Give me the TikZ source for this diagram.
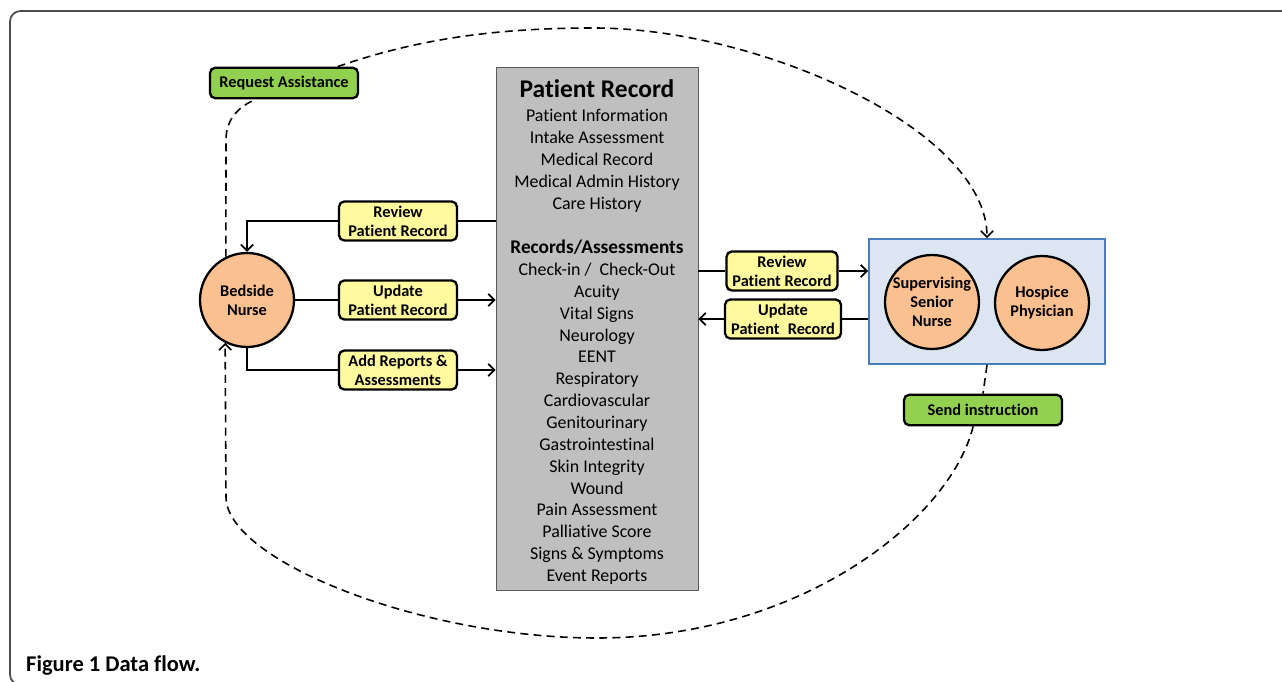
\documentclass[tikz,border=0pt]{standalone}
\usepackage{fontspec}
\setmainfont{Carlito}[Ligatures={NoCommon}]
\usepackage{xcolor}
\usetikzlibrary{arrows.meta,positioning}

\definecolor{recgray}{HTML}{BFBFBF}
\definecolor{actyellow}{HTML}{FFFA9E}
\definecolor{msggreen}{HTML}{92D050}
\definecolor{nurseorange}{HTML}{FAC090}
\definecolor{teamblue}{HTML}{DCE6F2}
\definecolor{teamedge}{HTML}{4A7EBB}

\newcommand{\bfsize}{\bfseries\fontsize{9.3}{10.8}\selectfont}

\begin{document}
\begin{tikzpicture}[x=0.02cm, y=-0.02cm, >={Straight Barb[length=3.5pt,width=7pt]},
    actor/.style={circle, draw, line width=1.3pt, fill=nurseorange, minimum size=1.88cm,
        inner sep=0pt, align=center, font=\bfsize},
    action/.style={rectangle, rounded corners=3pt, draw, line width=1.3pt, fill=actyellow,
        minimum width=2.36cm, minimum height=0.78cm, inner sep=1pt, align=center, font=\bfsize},
    msg/.style={rectangle, rounded corners=3pt, draw, line width=1.3pt, fill=msggreen,
        minimum height=0.61cm, inner sep=1pt, font=\bfsize},
    item/.style={font=\fontsize{10.2}{12.4}\selectfont, text height=7.2pt, text depth=2pt,
        inner sep=0pt},
    flow/.style={line width=1pt},
    ctrl/.style={line width=0.9pt, dash pattern=on 4.5pt off 3pt}]

    \useasboundingbox (0,0) rectangle (1282,682);
    \draw[gray!60!black, line width=1pt, rounded corners=6pt]
        (1300,11) -- (10,11) -- (10,685) -- (1300,685);

    % Patient record (middle)
    \node[rectangle, draw=gray!70!black, fill=recgray, minimum width=4.04cm,
        minimum height=10.46cm, inner sep=0pt] (rec) at (597,328.5) {};
    \node[font=\bfseries\fontsize{14.5}{17}\selectfont] (rectitle) at (597,89) {Patient Record};
    \foreach \txt [count=\i from 0] in {Patient Information, Intake Assessment,
        Medical Record, Medical Admin History, Care History}
        \node[item] (info\i) at (597,{117+21.9*\i}) {\txt};
    \node[font=\bfseries\fontsize{11}{13}\selectfont] (recsub) at (597,247) {Records/Assessments};
    \foreach \txt [count=\i from 0] in {Check-in /\ \ Check-Out, Acuity, Vital Signs,
        Neurology, EENT, Respiratory, Cardiovascular, Genitourinary, Gastrointestinal,
        Skin Integrity, Wound, Pain Assessment, Palliative Score, Signs \& Symptoms,
        Event Reports}
        \node[item] (rep\i) at (597,{271+21.85*\i}) {\txt};

    % Bedside nurse (left)
    \node[actor] (bn) at (247,300) {Bedside\\Nurse};
    \node[action] (rv1) at (398,221) {Review\\Patient Record};
    \node[action] (up1) at (398,300) {Update\\Patient Record};
    \node[action] (add) at (398,370) {Add Reports \&\\Assessments};
    \node[msg, minimum width=2.96cm] (req) at (284,83) {Request Assistance};

    \draw[flow] (rec.west |- rv1) -- (rv1.east);
    \draw[flow,->] (rv1.west) -| (bn.north);
    \draw[flow] (bn) -- (up1);
    \draw[flow,->] (up1.east) -- (up1 -| rec.west);
    \draw[flow] (bn.south) |- (add.west);
    \draw[flow,->] (add.east) -- (add -| rec.west);

    % Supervising team (right)
    \node[rectangle, draw=teamedge, line width=1.1pt, fill=teamblue, minimum width=4.72cm,
        minimum height=2.5cm] (team) at (987,301.5) {};
    \node[actor] (sup) at (932,302) {Supervising\\Senior\\Nurse};
    \node[actor] (hos) at (1042,303) {Hospice\\Physician};
    \node[action, minimum width=2.22cm] (rv2) at (782,271) {Review\\Patient Record};
    \node[action, minimum width=2.32cm] (up2) at (783,319) {Update\\Patient\enspace Record};
    \node[msg, minimum width=3.16cm] (si) at (983,410) {Send instruction};

    \draw[flow] (rv2 -| rec.east) -- (rv2.west);
    \draw[flow,->] (rv2.east) -- (rv2 -| team.west);
    \draw[flow] (up2 -| team.west) -- (up2.east);
    \draw[flow,->] (up2.west) -- (up2 -| rec.east);

    % Assistance loop
    \draw[ctrl] (bn.116) -- (226,140) .. controls (226,118) and (240,106) .. (req.210);
    \draw[ctrl,->] (req.17) .. controls (420,38) and (500,28) .. (594,28)
        .. controls (760,28) and (987,130) .. (team.north);
    \draw[ctrl] (team.south) -- (si.north);
    \draw[ctrl,->] (si.239) .. controls (950,520) and (800,638) .. (597,638)
        .. controls (420,638) and (226,560) .. (226,497) -- (bn.243.5);

    % Caption
    \node[anchor=west, font=\bfseries\fontsize{12.8}{15}\selectfont] (cap) at (20,666)
        {Figure 1 Data flow.};

\end{tikzpicture}
\end{document}
